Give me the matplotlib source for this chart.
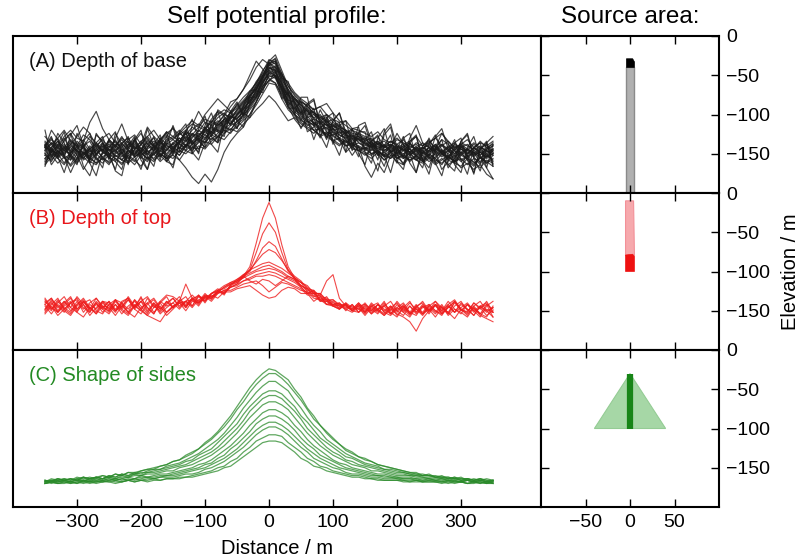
import numpy as np
import matplotlib
matplotlib.use('Agg')
import matplotlib.pyplot as plt
from matplotlib.patches import Polygon

plt.rcParams['font.family'] = ['Liberation Sans', 'DejaVu Sans']
plt.rcParams['axes.unicode_minus'] = True

# ---------------- data ----------------
distance = np.arange(-350, 351, 10)

profiles_A = [
    [31,24,29,35,27,22,30,33,25,21, 29,34,26,20,28,33,27,24,31,36, 28,33,38,31,35,42,37,45,49,43,
     50,55,60,68,74,80,78,66,59,58, 50,53,44,41,46,38,35,39,31,35, 28,33,27,24,31,29,23,30,28,22,
     27,31,25,22,29,30,23,27,24,29,26],
    [22,27,25,19,26,28,21,24,29,22, 18,25,28,23,20,27,24,30,25,22, 27,24,30,33,28,35,39,36,43,40,
     46,48,55,61,67,75,73,64,57,52, 48,45,47,39,38,41,34,32,35,29, 27,30,24,26,22,27,25,20,24,27,
     22,25,28,21,24,20,23,26,19,23,25],
    [30,35,28,33,38,31,29,36,32,27, 34,30,36,29,33,38,31,35,28,34, 36,33,39,37,42,40,46,44,50,48,
     53,57,62,66,73,79,81,72,66,60, 57,53,51,48,45,47,42,40,38,37, 35,33,36,30,33,31,34,28,32,30,
     33,29,34,31,27,32,30,28,33,29,31],
    [25,20,27,23,18,25,29,22,19,26, 23,28,21,25,30,26,22,27,24,20, 27,21,16,10,6,12,7,15,26,33,
     38,42,50,58,66,72,74,65,55,47, 42,46,40,36,38,33,30,34,29,27, 24,28,25,21,26,23,19,24,27,21,
     25,22,18,24,20,26,21,17,23,19,22],
    [27,31,26,24,30,27,22,28,32,26, 24,29,32,27,25,31,35,29,33,37, 34,38,35,40,44,41,47,52,49,55,
     60,66,75,84,79,73,70,62,55,50, 47,43,45,40,37,39,35,33,30,32, 29,27,30,26,29,24,27,28,23,26,
     29,24,27,25,22,28,26,23,27,24,28],
    [33,28,24,29,34,30,25,22,27,31, 28,23,26,31,28,24,29,33,30,27, 32,35,30,36,38,35,41,39,43,49,
     47,53,59,65,72,82,84,73,64,61, 55,51,48,50,44,41,43,37,35,36, 33,29,32,30,26,29,31,26,24,28,
     31,27,24,29,32,28,25,29,26,23,27],
    [20,24,19,23,17,22,26,20,18,23, 19,22,18,24,21,17,23,20,25,22, 24,21,27,25,30,28,33,36,34,39,
     42,46,50,56,63,70,69,60,53,49, 45,42,40,37,39,34,31,33,28,27, 25,22,26,21,24,20,18,23,21,19,
     22,18,21,24,19,17,22,20,16,21,19],
    [36,31,35,40,33,30,37,34,29,35, 38,32,29,34,37,31,36,40,34,38, 41,37,40,44,42,47,45,50,53,51,
     56,61,65,70,78,83,80,75,70,64, 60,57,53,55,50,47,45,46,41,40, 38,36,39,34,32,35,31,33,36,30,
     32,35,30,33,28,31,34,29,32,30,33],
    [26,29,33,27,25,30,28,24,27,30, 25,27,31,28,23,26,30,27,32,29, 31,28,33,37,33,40,38,41,46,44,
     49,54,58,63,71,76,77,70,62,57, 53,49,44,46,40,41,37,35,37,32, 30,32,28,27,30,25,28,26,29,24,
     26,29,25,27,23,26,28,24,26,22,25],
    [29,34,30,36,40,35,33,45,52,41, 34,30,35,32,28,33,36,31,34,39, 36,40,37,42,39,45,43,48,51,47,
     52,56,61,68,75,78,74,67,62,59, 56,52,50,47,48,43,41,38,40,36, 34,31,33,29,31,28,30,32,27,29,
     30,27,31,28,25,29,31,27,30,26,28],
    [24,21,26,29,23,20,25,28,22,19, 25,22,19,24,27,23,20,26,23,28, 26,29,27,31,35,32,37,40,38,43,
     45,50,54,60,68,74,75,67,58,53, 50,46,43,40,42,36,34,31,24,30, 17,10,19,13,24,24,22,26,21,24,
     20,23,26,21,19,24,22,18,23,20,17],
    [31,26,23,28,32,27,24,29,25,30, 27,31,25,29,26,22,28,31,27,32, 29,33,36,32,37,41,39,44,42,48,
     51,55,62,69,77,85,82,74,66,58, 54,50,52,47,43,44,40,37,36,34, 31,33,29,30,27,31,28,25,29,27,
     24,28,26,30,27,24,28,25,29,27,24],
    [22,26,30,24,21,27,23,19,25,28, 23,20,26,22,18,24,27,21,25,22, 28,24,30,27,33,29,35,32,38,41,
     39,44,48,53,57,62,58,52,46,48, 44,41,38,42,36,33,35,30,32,27, 29,25,27,23,26,28,22,25,21,26,
     23,20,25,22,27,21,24,19,22,25,20],
    [28,32,27,31,26,29,34,28,31,26, 30,26,32,35,29,27,33,30,26,31, 34,31,29,35,40,37,42,46,43,47,
     53,58,63,71,76,81,83,76,68,62, 58,55,51,49,46,42,44,39,36,38, 33,35,31,29,33,30,27,31,28,32,
     29,26,30,27,31,28,25,29,24,28,30],
    [21,25,22,18,24,21,26,23,19,22, 20,24,21,19,23,26,22,25,20,24, 22,27,25,29,28,33,31,36,40,38,
     44,47,53,58,66,72,70,63,56,50, 46,44,40,41,36,37,33,30,31,28, 26,24,27,23,25,22,24,21,23,20,
     24,21,19,23,20,22,18,22,20,24,21],
    [27,32,29,25,31,36,42,38,30,27, 33,29,25,31,34,28,32,27,35,31, 27,33,30,38,34,39,36,43,47,45,
     50,53,59,64,71,79,80,71,63,58, 51,54,47,45,41,43,39,36,33,35, 32,28,31,27,30,26,29,32,26,29,
     27,31,26,29,25,30,27,24,28,31,26],
    [18,23,27,22,25,19,24,28,21,25, 28,24,21,27,23,26,21,25,29,25, 30,26,31,28,32,37,34,38,42,40,
     46,49,56,62,69,78,79,69,60,55, 51,47,45,42,44,39,37,35,32,30, 28,31,26,24,27,22,25,28,24,21,
     25,22,27,23,20,25,22,26,23,19,24],
    [30,27,33,29,24,28,32,26,30,34, 29,33,28,25,31,27,34,30,27,33, 35,38,42,46,43,50,55,60,56,52,
     55,59,64,70,75,80,77,69,61,56, 52,48,50,46,43,40,41,37,34,36, 31,29,32,28,26,30,27,24,28,25,
     29,26,23,27,30,25,28,26,22,27,25],
    [25,28,23,27,31,26,22,27,24,29, 31,27,24,22,28,31,26,29,24,27, 32,29,34,31,36,34,39,42,47,44,
     50,54,58,66,74,82,86,76,65,60, 56,52,48,44,47,41,38,40,35,33, 35,31,28,31,27,25,29,26,30,25,
     27,30,25,23,28,26,24,29,26,23,27],
    [29,26,31,27,33,29,25,30,27,23, 26,30,27,33,29,26,31,28,33,30, 28,32,35,33,37,39,42,40,45,49,
     47,52,56,61,70,76,74,68,63,60, 58,56,53,55,57,51,46,43,40,38, 36,34,31,33,30,34,32,29,31,28,
     32,35,38,33,29,31,28,32,29,27,30],
    [24,27,22,26,29,24,27,21,25,28, 22,26,23,27,24,29,25,22,27,24, 29,26,31,29,34,32,37,35,41,44,
     48,51,57,63,70,77,75,67,59,54, 49,46,43,45,39,37,39,34,31,29, 28,25,27,24,22,26,23,21,24,20,
     23,19,22,18,21,16,19,15,18,12,9],
    [32,28,25,30,27,33,29,25,28,32, 27,30,34,29,32,28,25,30,33,28, 31,35,33,38,36,41,45,43,47,51,
     54,58,62,67,73,84,88,78,68,63, 59,55,51,48,50,45,42,40,37,34, 32,30,33,29,31,27,30,28,25,29,
     26,28,31,27,24,29,27,31,28,25,28],
    [40,22,31,39,23,18,33,38,23,16, 34,39,25,19,34,40,23,17,33,39, 24,39,44,30,26,43,51,39,36,52,
     58,50,62,66,74,83,78,76,64,50, 61,61,43,35,48,51,34,26,41,42, 26,19,35,41,26,19,35,38,22,16,
     31,37,27,16,22,33,37,22,14,28,32],
    [17,29,35,23,13,22,32,19,11,26, 34,20,15,30,36,24,15,27,35,20, 18,32,39,26,21,32,44,33,43,52,
     41,51,48,58,68,71,77,60,64,51, 41,49,54,37,29,43,45,26,30,39, 39,24,14,30,37,20,15,32,36,21,
     12,28,34,18,14,31,24,12,28,33,18],
    [29,40,34,23,37,43,30,22,37,33, 22,35,44,33,24,31,42,36,23,31, 43,32,27,43,52,45,38,53,50,58,
     60,66,72,80,85,82,74,66,58,54, 51,57,60,44,35,46,51,37,29,43, 45,33,24,39,44,29,23,35,43,32,
     23,36,41,28,20,33,38,23,18,32,36],
    [30,18,24,34,38,24,15,22,32,36, 24,15,31,36,23,15,29,36,32,20, 25,39,34,25,41,49,36,32,48,46,
     41,56,65,66,74,83,84,70,56,60, 54,39,42,53,45,31,43,46,31,23, 34,39,25,17,29,38,31,19,13,26,
     35,26,15,20,32,35,21,13,28,32,17],
    [19,26,38,32,21,38,30,20,38,32, 21,38,31,18,35,25,41,30,21,36, 42,27,39,47,34,29,45,52,39,49,
     57,49,61,61,73,84,85,73,71,56, 46,56,59,43,34,46,51,39,27,38, 43,30,21,37,42,25,18,33,37,21,
     16,29,38,32,18,13,29,36,23,16,31],
    [30,36,23,13,26,32,17,11,24,32, 25,14,11,28,34,21,15,31,37,23, 16,32,40,33,25,42,31,26,44,52,
     46,42,57,65,64,77,78,66,54,54, 58,47,34,45,50,33,24,38,41,25, 18,33,37,24,13,28,36,25,13,30,
     34,19,11,26,34,21,12,29,32,16,9],
]

profiles_B = [
    [29,33,25,31,27,34,29,24,31,27, 25,32,30,24,28,33,27,23,31,28, 30,34,27,33,29,35,33,37,36,40,
     42,47,53,68,84,94,84,67,53,46, 41,39,34,35,29,31,26,30,25,29, 24,30,26,31,23,27,30,24,22,28,
     25,31,27,24,30,26,22,28,31,25,27],
    [26,31,24,29,33,26,30,32,25,23, 29,25,31,33,26,31,27,23,30,34, 27,31,34,28,35,30,36,38,35,42,
     44,46,51,62,74,81,75,62,51,45, 40,36,38,31,34,28,30,25,29,24, 29,26,23,29,25,31,26,22,28,30,
     24,29,27,23,31,26,24,30,26,31,24],
    [32,26,30,34,27,24,31,26,33,28, 24,31,26,32,27,34,25,30,24,29, 33,28,31,35,31,36,32,37,40,43,
     44,48,50,57,65,69,66,58,50,46, 43,37,36,33,32,29,30,26,29,24, 28,23,29,25,28,22,27,31,24,28,
     23,29,25,31,26,23,29,25,21,28,31],
    [24,29,33,26,30,32,24,29,26,31, 30,25,29,24,32,26,30,33,27,24, 27,31,28,32,35,31,36,39,36,41,
     45,47,51,56,61,64,62,57,51,47, 44,39,38,34,33,30,29,27,28,26, 24,29,26,23,27,30,24,28,23,27,
     29,25,23,28,24,30,26,22,28,25,21],
    [33,27,24,30,34,26,31,27,23,30, 26,32,27,34,28,25,33,27,31,35, 34,31,42,33,34,33,36,38,41,43,
     45,48,51,53,55,56,54,52,49,46, 43,41,36,36,31,32,28,29,26,30, 25,28,30,24,22,26,28,24,29,23,
     28,24,29,23,28,31,25,28,23,29,26],
    [28,23,29,25,22,28,31,25,29,26, 23,29,25,22,28,31,24,29,23,27, 30,26,31,32,28,34,33,38,39,42,
     44,47,49,51,53,54,52,50,47,45, 43,40,37,35,44,48,33,28,25,28, 23,28,25,22,27,24,28,23,26,22,
     27,23,28,22,26,24,21,27,23,26,24],
    [30,33,27,31,25,29,33,27,24,31, 28,24,30,26,32,28,23,30,26,31, 27,32,29,33,30,35,34,37,40,42,
     43,46,48,50,51,52,51,49,46,44, 41,38,37,32,32,28,26,29,25,24, 27,23,26,22,26,23,21,18,12,20,
     25,28,24,29,24,27,30,25,28,24,27],
    [23,28,22,26,30,24,21,27,23,28, 27,22,28,24,21,27,30,24,28,22, 26,30,25,31,30,33,33,36,38,40,
     41,44,46,48,49,50,49,47,45,43, 40,36,36,32,31,29,28,26,24,27, 22,27,24,28,23,27,24,21,27,23,
     26,21,27,24,20,26,23,27,22,20,18],
    [29,25,31,26,23,29,32,26,30,24, 29,32,26,23,29,25,22,20,18,24, 28,30,27,32,30,34,34,37,37,40,
     42,44,45,47,47,48,47,45,43,41, 39,35,35,31,31,28,27,29,25,28, 29,24,26,28,31,25,29,23,27,31,
     25,29,23,27,31,25,29,26,23,21,28],
    [25,30,24,28,31,25,29,22,27,31, 25,29,23,28,31,26,22,27,30,24, 28,30,31,27,32,34,31,36,38,38,
     40,42,43,44,41,37,40,43,42,40, 38,37,33,32,29,29,28,28,25,29, 24,28,25,30,24,21,27,23,28,24,
     29,25,22,28,24,29,26,22,28,30,24],
    [31,26,32,27,24,31,26,30,33,27, 31,26,30,33,27,31,34,28,25,31, 27,31,28,33,31,32,35,33,37,37,
     39,40,41,38,35,33,34,38,40,39, 36,36,31,34,29,28,26,30,27,26, 30,25,29,26,23,29,25,30,26,23,
     28,31,25,29,32,26,24,30,27,22,25],
    [26,32,28,24,30,33,27,24,30,26, 31,25,28,32,26,23,29,32,26,30, 33,27,31,28,34,31,36,37,36,41,
     43,47,44,42,45,44,41,44,47,45, 41,39,36,36,32,32,29,29,26,30, 26,25,29,24,28,25,22,28,24,29,
     25,29,23,27,31,25,29,24,27,29,21],
]

profiles_C = [
    [17,16,18,17,18,17,19,18,19,20,19,21,20,22,21,23,24,25,26,27,29,30,33,35,37,41,44,48,53,58,64,70,76,81,85,88,
     87,84,81,75,70,63,58,52,48,44,40,37,35,32,31,29,27,26,25,24,23,22,22,20,21,19,20,18,19,17,18,17,18,16,17],
    [16,18,17,18,17,19,18,19,18,20,19,21,20,22,22,23,24,24,26,27,29,30,32,34,37,40,43,47,51,56,62,67,73,78,82,85,
     85,82,78,73,68,62,56,52,47,43,40,36,34,32,30,29,27,26,25,24,23,22,21,21,20,20,19,19,18,19,17,18,17,18,17],
    [17,16,18,17,18,17,19,18,19,18,20,19,21,20,22,21,23,24,24,26,27,28,30,32,34,37,40,43,47,52,57,63,68,73,77,80,
     80,77,74,68,63,57,52,48,43,40,37,34,32,30,28,27,26,24,24,23,22,21,21,20,20,19,19,19,18,18,18,17,18,17,17],
    [16,17,18,17,16,18,19,17,19,18,20,19,21,20,21,22,22,23,24,25,26,27,29,30,33,35,37,41,45,49,53,59,64,68,72,74,
     74,72,68,64,58,54,49,44,41,38,35,32,31,29,27,26,25,24,23,22,22,21,20,20,20,19,19,18,19,18,18,17,18,17,16],
    [17,16,17,18,17,18,17,18,19,18,19,18,20,19,21,20,22,22,23,24,25,26,27,29,31,33,35,38,42,46,50,55,61,65,69,71,
     71,69,65,61,56,50,46,42,38,35,33,30,29,27,26,25,24,23,22,21,21,20,20,19,19,19,18,18,18,17,18,17,17,16,17],
    [16,17,16,17,18,17,16,18,17,18,19,18,19,19,20,20,21,21,22,23,23,25,26,27,29,31,33,36,39,43,47,52,57,61,65,67,
     67,65,62,57,52,47,43,39,36,33,31,29,27,26,25,23,23,22,21,20,20,20,19,19,18,18,18,17,18,17,17,16,17,16,17],
    [16,17,16,17,16,17,17,16,18,17,18,17,18,19,18,20,19,20,21,21,22,23,24,25,27,28,30,33,36,39,43,47,52,56,60,62,
     62,60,57,52,48,43,39,36,33,30,28,27,25,24,23,22,21,21,20,19,19,19,18,18,18,17,18,17,17,16,17,16,17,16,16],
    [15,16,17,16,16,17,16,17,16,17,18,17,18,17,18,19,19,19,20,20,21,22,23,24,25,27,28,31,33,37,40,44,48,53,56,58,
     58,56,53,49,44,40,37,33,31,29,27,25,24,23,22,21,20,20,19,19,18,18,18,17,18,17,17,16,17,16,17,16,16,15,16],
    [16,15,16,17,16,15,17,16,17,16,17,18,17,18,17,18,19,18,19,20,20,21,22,23,24,25,27,29,31,34,37,41,45,49,52,54,
     54,52,49,45,41,37,34,31,29,27,25,24,23,22,21,20,20,19,19,18,18,18,17,17,17,17,16,17,16,16,17,16,16,15,16],
    [15,16,15,16,15,16,17,16,16,17,16,17,16,17,18,17,18,18,19,19,19,20,21,21,22,24,25,27,29,32,35,38,42,46,49,51,
     51,49,46,42,38,35,31,29,27,25,24,22,21,21,20,19,19,18,18,18,17,17,17,16,17,16,16,17,16,16,15,16,15,16,15],
    [15,16,15,15,16,15,16,15,16,16,17,16,16,17,16,17,17,18,17,18,18,19,19,20,21,22,23,25,26,29,31,35,38,42,44,46,
     46,45,41,38,35,31,29,26,25,23,22,21,20,20,19,18,18,17,17,17,17,16,17,16,16,16,16,15,16,16,15,16,15,16,15],
    [15,16,15,16,15,16,15,16,15,16,16,15,16,17,16,17,16,17,17,18,18,18,19,19,20,21,22,23,25,26,29,32,35,38,41,42,
     42,41,38,35,31,29,26,25,23,22,21,20,19,19,18,18,17,17,17,17,16,16,16,16,16,16,15,16,15,16,15,15,16,15,15],
]

# Source-area geometry (x / m, elevation / m)
srcA_column_x = [-4, 5, 5, -4]
srcA_column_y = [-40, -40, -200, -200]
srcA_cap_x = [-4, 3, 5, 5, -4]
srcA_cap_y = [-29, -29, -33, -40, -40]
srcB_column_x = [-5, 4, 5, -5]
srcB_column_y = [-10, -10, -80, -80]
srcB_cap_x = [-5, 3, 5, 5, -5]
srcB_cap_y = [-79, -78, -81, -100, -100]
srcC_tri_x = [-40, 0, 40]
srcC_tri_y = [-100, -30, -100]
srcC_core_x = [0, 0]
srcC_core_y = [-30, -100]

panel_labels = ["(A) Depth of base", "(B) Depth of top", "(C) Shape of sides"]
panel_colors = ["#111111", "#e8161b", "#238a23"]
line_colors = ["#1a1a1a", "#ee1c1c", "#2a8a2a"]
x_ticks_left = [-300, -200, -100, 0, 100, 200, 300]
x_ticks_right = [-50, 0, 50]
y_ticks_right = [0, -50, -100, -150]

# ---------------- figure ----------------
fig = plt.figure(figsize=(8.01, 5.6), dpi=100)
lx, lw_ = 13 / 801, 528 / 801
rx, rw = 541 / 801, 178 / 801
top = 1 - 36 / 560
h = (507 - 36) / 560 / 3

all_profiles = [profiles_A, profiles_B, profiles_C]
fs = 14

for r in range(3):
    b = top - (r + 1) * h
    axl = fig.add_axes([lx, b, lw_, h])
    axr = fig.add_axes([rx, b, rw, h])

    lw_line = [0.85, 0.8, 0.9][r]
    alpha = [0.8, 0.8, 0.75][r]
    for prof in all_profiles[r]:
        axl.plot(distance, prof, color=line_colors[r], lw=lw_line, alpha=alpha)
    axl.set_xlim(-400, 425)
    axl.set_ylim(0, 100)
    axl.set_yticks([])
    axl.set_xticks(x_ticks_left)
    axl.text(0.03, 0.84, panel_labels[r], transform=axl.transAxes,
             fontsize=14.5, color=panel_colors[r], ha='left', va='center')

    axr.set_xlim(-100, 100)
    axr.set_ylim(-200, 0)
    axr.set_xticks(x_ticks_right)
    axr.set_yticks(y_ticks_right)
    axr.yaxis.tick_right()

    for ax in (axl, axr):
        for sp in ax.spines.values():
            sp.set_linewidth(1.5)
        ax.tick_params(direction='in', top=True, bottom=True, length=6, width=1,
                       labelsize=fs, pad=5)
    axr.tick_params(axis='y', left=True, right=True, labelleft=False, labelright=True)
    if r < 2:
        axl.tick_params(labelbottom=False)
        axr.tick_params(labelbottom=False)
    else:
        axl.set_xlabel("Distance / m", fontsize=14.5, labelpad=6)

    if r == 0:
        axr.add_patch(Polygon(list(zip(srcA_column_x, srcA_column_y)), closed=True,
                              facecolor='#b0b0b0', edgecolor='#8a8a8a', lw=1))
        axr.add_patch(Polygon(list(zip(srcA_cap_x, srcA_cap_y)), closed=True,
                              facecolor='#000000', edgecolor='#000000', lw=0.5))
    elif r == 1:
        axr.add_patch(Polygon(list(zip(srcB_column_x, srcB_column_y)), closed=True,
                              facecolor='#f6a9ad', edgecolor='#f39098', lw=0.8))
        axr.add_patch(Polygon(list(zip(srcB_cap_x, srcB_cap_y)), closed=True,
                              facecolor='#ee1111', edgecolor='#ee1111', lw=0.5))
        axr.set_ylabel("Elevation / m", fontsize=14.5, labelpad=8)
        axr.yaxis.set_label_position('right')
    else:
        axr.add_patch(Polygon(list(zip(srcC_tri_x, srcC_tri_y)), closed=True,
                              facecolor='#a6d7a6', edgecolor='#94cc94', lw=0.8))
        axr.plot(srcC_core_x, srcC_core_y, color='#178517', lw=4.5, solid_capstyle='butt')

fig.text(lx + lw_ / 2, 1 - 17 / 560, "Self potential profile:", fontsize=17.5,
         ha='center', va='center')
fig.text(rx + rw / 2, 1 - 17 / 560, "Source area:", fontsize=17.5,
         ha='center', va='center')

fig.savefig("out.png", dpi=100)
